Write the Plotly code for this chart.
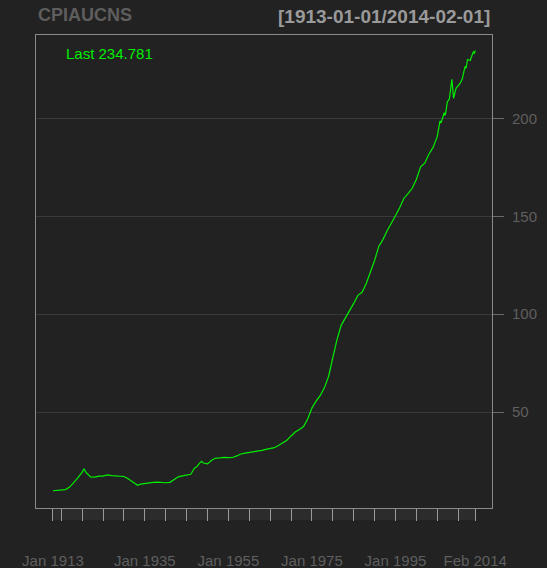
import plotly.graph_objects as go

obs_dates = [
    "1913-01-01", "1914-01-01", "1915-01-01", "1916-01-01", "1917-01-01",
    "1918-01-01", "1919-01-01", "1920-01-01", "1920-06-01", "1921-01-01",
    "1921-09-01", "1922-01-01", "1923-01-01", "1924-01-01", "1925-01-01",
    "1926-01-01", "1927-01-01", "1928-01-01", "1929-01-01", "1930-01-01",
    "1931-01-01", "1932-01-01", "1933-01-01", "1933-04-01", "1934-01-01",
    "1935-01-01", "1936-01-01", "1937-01-01", "1938-01-01", "1939-01-01",
    "1940-01-01", "1941-01-01", "1942-01-01", "1943-01-01", "1944-01-01",
    "1945-01-01", "1946-01-01", "1946-12-01", "1947-06-01", "1948-01-01",
    "1948-08-01", "1949-01-01", "1950-01-01", "1951-01-01", "1952-01-01",
    "1953-01-01", "1954-01-01", "1955-01-01", "1956-01-01", "1957-01-01",
    "1958-01-01", "1959-01-01", "1960-01-01", "1961-01-01", "1962-01-01",
    "1963-01-01", "1964-01-01", "1965-01-01", "1966-01-01", "1967-01-01",
    "1968-01-01", "1969-01-01", "1970-01-01", "1971-01-01", "1972-01-01",
    "1973-01-01", "1974-01-01", "1975-01-01", "1976-01-01", "1977-01-01",
    "1978-01-01", "1979-01-01", "1980-01-01", "1981-01-01", "1982-01-01",
    "1983-01-01", "1984-01-01", "1985-01-01", "1986-01-01", "1987-01-01",
    "1988-01-01", "1989-01-01", "1990-01-01", "1991-01-01", "1992-01-01",
    "1993-01-01", "1994-01-01", "1995-01-01", "1996-01-01", "1997-01-01",
    "1998-01-01", "1999-01-01", "2000-01-01", "2001-01-01", "2002-01-01",
    "2003-01-01", "2004-01-01", "2005-01-01", "2005-09-01", "2005-11-01",
    "2006-01-01", "2006-09-01", "2006-11-01", "2007-01-01", "2007-06-01",
    "2007-12-01", "2008-07-01", "2008-12-01", "2009-01-01", "2009-07-01",
    "2010-01-01", "2010-07-01", "2011-01-01", "2011-09-01", "2011-12-01",
    "2012-04-01", "2012-12-01", "2013-01-01", "2013-09-01", "2013-12-01",
    "2014-01-01", "2014-02-01",
]
cpi_values = [
    9.8, 10.0, 10.1, 10.4, 11.7,
    14.0, 16.5, 19.3, 21.0, 19.0,
    17.5, 16.9, 16.8, 17.3, 17.3,
    17.9, 17.5, 17.3, 17.1, 17.1,
    15.9, 14.3, 12.9, 12.6, 13.2,
    13.6, 13.8, 14.1, 14.2, 14.0,
    13.9, 14.1, 15.7, 16.9, 17.4,
    17.8, 18.2, 21.5, 22.0, 23.7,
    24.8, 24.0, 23.5, 25.4, 26.5,
    26.6, 26.9, 26.7, 26.8, 27.6,
    28.6, 29.0, 29.3, 29.8, 30.0,
    30.4, 30.9, 31.2, 31.8, 32.9,
    34.1, 35.6, 37.8, 39.8, 41.1,
    42.6, 46.6, 52.1, 55.6, 58.5,
    62.5, 68.3, 77.8, 87.0, 94.3,
    97.8, 101.9, 105.5, 109.6, 111.2,
    115.7, 121.1, 127.4, 134.6, 138.1,
    142.6, 146.2, 150.3, 154.4, 159.1,
    161.6, 164.3, 168.8, 175.1, 177.1,
    181.7, 185.2, 190.7, 198.8, 197.6,
    198.3, 202.9, 201.5, 202.416, 208.352,
    210.036, 219.964, 210.228, 211.143, 215.351,
    216.687, 218.011, 220.223, 226.545, 225.672,
    230.085, 229.601, 230.280, 234.149, 233.049,
    233.916, 234.781,
]

# x-axis ticks (every 5 years) and the few that carry a label
x_tick_dates = ["1913-01-01", "1915-01-01", "1920-01-01", "1925-01-01", "1930-01-01",
                "1935-01-01", "1940-01-01", "1945-01-01", "1950-01-01", "1955-01-01",
                "1960-01-01", "1965-01-01", "1970-01-01", "1975-01-01", "1980-01-01",
                "1985-01-01", "1990-01-01", "1995-01-01", "2000-01-01", "2005-01-01",
                "2010-01-01", "2014-02-01"]
x_tick_labels = ["Jan 1913", "", "", "", "",
                 "Jan 1935", "", "", "", "Jan 1955",
                 "", "", "", "Jan 1975", "",
                 "", "", "Jan 1995", "", "",
                 "", "Feb 2014"]
y_tick_vals = [50, 100, 150, 200]

BG = "#222222"
FONT = "Liberation Sans, Arial, sans-serif"
GREEN = "#00ee00"

fig = go.Figure()

fig.add_trace(go.Scatter(
    x=obs_dates, y=cpi_values, mode="lines",
    line=dict(color=GREEN, width=1.2), showlegend=False, hoverinfo="skip"
))

# lighter band behind the x ticks
fig.add_shape(type="rect", xref="x", yref="paper",
              x0=x_tick_dates[0], x1=x_tick_dates[-1], y0=-12 / 473, y1=0,
              fillcolor="#2c2c2c", line_width=0, layer="below")

fig.update_layout(
    width=547, height=568,
    paper_bgcolor=BG, plot_bgcolor=BG,
    margin=dict(l=36, r=55, t=35, b=60),
    font=dict(family=FONT, size=15, color="#5f5f5f"),
    xaxis=dict(
        range=["1908-12-10", "2018-02-10"], type="date",
        tickvals=x_tick_dates, ticktext=x_tick_labels,
        ticks="outside", ticklen=12, tickcolor="#9a9a9a", tickwidth=1,
        ticklabelstandoff=27, automargin=False,
        showgrid=False, zeroline=False,
        showline=True, linecolor="#8a8a8a", linewidth=1, mirror=True,
        tickfont=dict(size=15, color="#5f5f5f"),
    ),
    yaxis=dict(
        range=[1.0, 242.6], side="right",
        tickvals=y_tick_vals,
        ticks="outside", ticklen=11, tickcolor="#6a6a6a",
        ticklabelstandoff=5, automargin=False,
        showgrid=True, gridcolor="#3a3a3a", gridwidth=1,
        zeroline=False,
        showline=True, linecolor="#8a8a8a", linewidth=1, mirror=True,
        tickfont=dict(size=15, color="#5f5f5f"),
    ),
    annotations=[
        dict(text="<b>CPIAUCNS</b>", xref="paper", yref="paper", x=0, y=1,
             xanchor="left", yanchor="bottom", yshift=8, showarrow=False,
             font=dict(size=18, color="#5e5e5e", family=FONT)),
        dict(text="<b>[%s/%s]</b>" % (obs_dates[0], obs_dates[-1]),
             xref="paper", yref="paper", x=1, y=1, xshift=0,
             xanchor="right", yanchor="bottom", yshift=6, showarrow=False,
             font=dict(size=19, color="#9a9a9a", family=FONT)),
        dict(text="Last %s" % cpi_values[-1], xref="paper", yref="paper",
             x=0, xshift=28, y=1, yshift=-18, xanchor="left", yanchor="middle",
             showarrow=False, font=dict(size=15, color=GREEN, family=FONT)),
    ],
)

fig.write_html("out.html", config={"displayModeBar": False},
               post_script="document.body.style.margin='0';")
